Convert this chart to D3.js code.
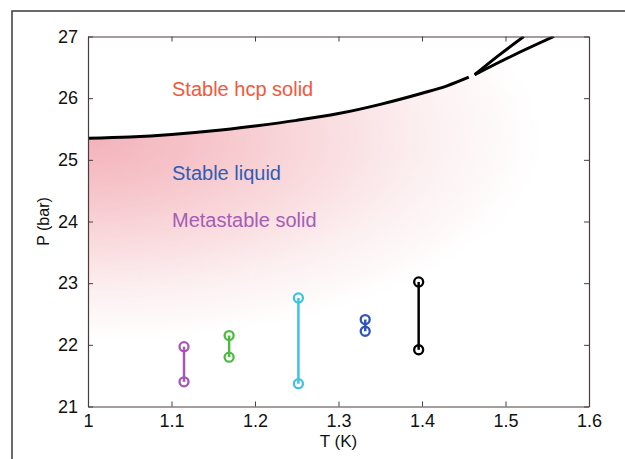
<!DOCTYPE html>
<html><head><meta charset="utf-8">
<script src="https://cdn.jsdelivr.net/npm/d3@7"></script>
<style>html,body{margin:0;padding:0;background:#fff;}svg{display:block;font-family:"Liberation Sans",Arial,Helvetica,sans-serif;}</style>
</head><body>
<script>
// ---- data ----
const xTicks = [1, 1.1, 1.2, 1.3, 1.4, 1.5, 1.6];
const yTicks = [21, 22, 23, 24, 25, 26, 27];
const meltCurveT = [1.0, 1.05, 1.1, 1.15, 1.2, 1.25, 1.3, 1.35, 1.4, 1.43, 1.456];
const meltCurveP = [25.35, 25.37, 25.41, 25.47, 25.55, 25.64, 25.75, 25.90, 26.08, 26.20, 26.34];
const branchUpperT = [1.463, 1.4915, 1.522];
const branchUpperP = [26.38, 26.69, 27.0];
const branchLowerT = [1.463, 1.507, 1.558];
const branchLowerP = [26.38, 26.68, 27.0];
const seriesT = [1.115, 1.169, 1.252, 1.332, 1.396];
const seriesPlow = [21.40, 21.80, 21.37, 22.22, 21.92];
const seriesPhigh = [21.97, 22.15, 22.76, 22.41, 23.02];
const seriesColor = ["#a756b4", "#4dbb3e", "#3fc2e2", "#2f55b8", "#000000"];
const labels = ["Stable hcp solid", "Stable liquid", "Metastable solid"];
const labelP = [26.15, 24.78, 24.03];
const labelColor = ["#f2583c", "#2f5db6", "#a75cb4"];

const W = 625, H = 459;
const m = {left: 88, right: 36, top: 36.5, bottom: 52.5};
const svg = d3.select("body").append("svg").attr("width", W).attr("height", H);
svg.append("rect").attr("width", W).attr("height", H).attr("fill", "#fff");
// outer frame
svg.append("rect").attr("x", 12).attr("y", 11).attr("width", 700).attr("height", 600)
  .attr("fill", "none").attr("stroke", "#3a3a3a").attr("stroke-width", 1.5);

const x = d3.scaleLinear().domain([1, 1.6]).range([m.left, W - m.right]);
const y = d3.scaleLinear().domain([21, 27]).range([H - m.bottom, m.top]);

const defs = svg.append("defs");
defs.append("clipPath").attr("id", "plotclip").append("rect")
  .attr("x", x(1)).attr("y", y(27)).attr("width", x(1.6) - x(1)).attr("height", y(21) - y(27));

const curvePts = meltCurveT.map((t, i) => [t, meltCurveP[i]]);
const lineGen = d3.line().x(d => x(d[0])).y(d => y(d[1])).curve(d3.curveMonotoneX);

// pink gradient region below the melting curve
const cx = x(1), cy = y(25.35);
const grad = defs.append("radialGradient").attr("id", "pinkgrad")
  .attr("gradientUnits", "userSpaceOnUse")
  .attr("cx", 0).attr("cy", 0).attr("r", 1)
  .attr("gradientTransform", `translate(${cx},${cy}) scale(455,205)`);
[[0, "#f3b3bb"], [0.25, "#f6c4ca"], [0.5, "#f9dadd"], [0.75, "#fcf0f1"], [1, "#ffffff"]]
  .forEach(s => grad.append("stop").attr("offset", s[0]).attr("stop-color", s[1]));

const areaPts = curvePts.concat([[1.463, 26.38], [1.6, 27]]);
const areaGen = d3.area().x(d => x(d[0])).y0(y(21)).y1(d => y(d[1])).curve(d3.curveMonotoneX);
const gPlot = svg.append("g").attr("clip-path", "url(#plotclip)");
gPlot.append("path").datum(areaPts).attr("d", areaGen).attr("fill", "url(#pinkgrad)");

// curves
gPlot.append("path").datum(curvePts).attr("d", lineGen)
  .attr("fill", "none").attr("stroke", "#000").attr("stroke-width", 3);
[[branchUpperT, branchUpperP], [branchLowerT, branchLowerP]].forEach(([ts, ps]) => {
  gPlot.append("path").datum(ts.map((t, i) => [t, ps[i]]))
    .attr("d", d3.line().x(d => x(d[0])).y(d => y(d[1])).curve(d3.curveMonotoneX))
    .attr("fill", "none").attr("stroke", "#000").attr("stroke-width", 3);
});

// labels
labels.forEach((t, i) => {
  svg.append("text").attr("x", 172).attr("y", y(labelP[i])).attr("dy", "0.35em")
    .attr("fill", labelColor[i]).attr("font-size", 20).text(t);
});

// data pairs
seriesT.forEach((t, i) => {
  const g = svg.append("g");
  g.append("line").attr("x1", x(t)).attr("x2", x(t))
    .attr("y1", y(seriesPlow[i])).attr("y2", y(seriesPhigh[i]))
    .attr("stroke", seriesColor[i]).attr("stroke-width", 2.5);
  [seriesPlow[i], seriesPhigh[i]].forEach(p => {
    g.append("circle").attr("cx", x(t)).attr("cy", y(p)).attr("r", 4.5)
      .attr("fill", "none").attr("stroke", seriesColor[i]).attr("stroke-width", 2.3);
  });
});

// axes
const axisColor = "#4a3c3c";
const tl = 5;
const ax = svg.append("g");
ax.append("g").attr("transform", `translate(0,${y(21)})`)
  .call(d3.axisBottom(x).tickValues(xTicks).tickSizeInner(-tl).tickSizeOuter(0).tickPadding(8).tickFormat(d3.format("")));
ax.append("g").attr("transform", `translate(0,${y(27)})`)
  .call(d3.axisTop(x).tickValues(xTicks).tickSizeInner(-tl).tickSizeOuter(0).tickFormat(""));
ax.append("g").attr("transform", `translate(${x(1)},0)`)
  .call(d3.axisLeft(y).tickValues(yTicks).tickSizeInner(-tl).tickSizeOuter(0).tickPadding(10).tickFormat(d3.format("d")));
ax.append("g").attr("transform", `translate(${x(1.6)},0)`)
  .call(d3.axisRight(y).tickValues(yTicks).tickSizeInner(-tl).tickSizeOuter(0).tickFormat(""));
ax.selectAll("path.domain").attr("stroke", axisColor).attr("stroke-width", 1.2);
ax.selectAll(".tick line").attr("stroke", axisColor);
ax.selectAll(".tick text").attr("fill", "#111").attr("font-size", 18)
  .attr("font-family", "'Liberation Sans',Arial,Helvetica,sans-serif");

svg.append("text").attr("x", x(1.3)).attr("y", 447).attr("text-anchor", "middle")
  .attr("font-size", 17).attr("fill", "#111").text("T (K)");
svg.append("text").attr("transform", `translate(49,${y(24)}) rotate(-90)`)
  .attr("text-anchor", "middle").attr("font-size", 16).attr("fill", "#111").text("P (bar)");
</script>
</body></html>
